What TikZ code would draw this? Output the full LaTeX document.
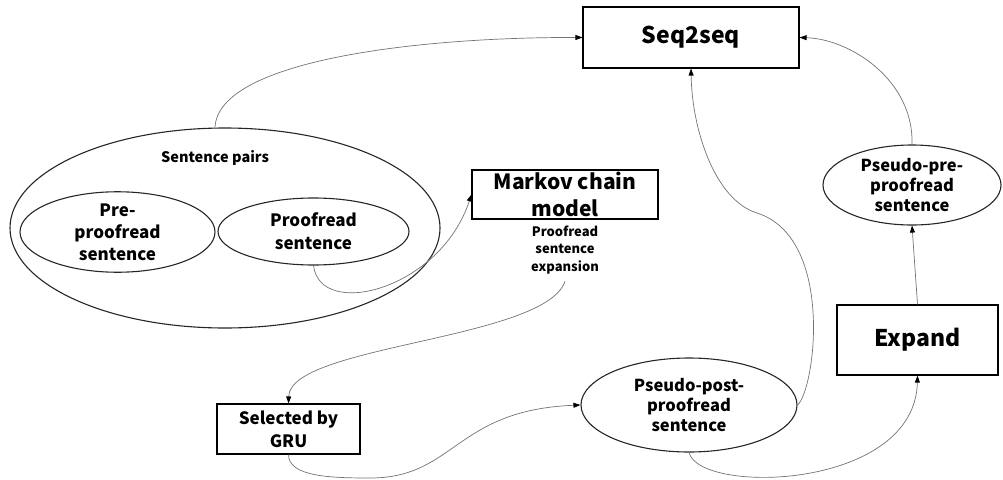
\documentclass[tikz,border=0pt]{standalone}
\usepackage{fontspec}
\setmainfont{Noto Sans CJK JP}
\usetikzlibrary{arrows.meta,shapes.geometric}
\tikzset{
  box/.style={draw=black, line width=1.1pt, rectangle, inner sep=0pt, align=center, font=\bfseries},
  oval/.style={draw=black!85, line width=1.1pt, ellipse, inner sep=0pt, align=center, font=\bfseries},
  conn/.style={draw=black!55, line width=0.7pt, -{Triangle[length=7pt,width=5pt,color=black,fill=black]}},
}
\begin{document}
\begin{tikzpicture}[x=1pt,y=-1pt]
\useasboundingbox (0,0) rectangle (1003,479);
% nodes
\node[box, minimum width=216pt, minimum height=61pt, font=\fontsize{23}{28}\selectfont\bfseries] (seq) at (691,37.5) {Seq2seq};
\node[oval, minimum width=430pt, minimum height=200pt] (pairs) at (225,228) {};
\node[font=\fontsize{14.5}{18}\selectfont\bfseries] (pairslbl) at (215,158) {Sentence pairs};
\node[oval, minimum width=195pt, minimum height=70pt, font=\fontsize{17}{22}\selectfont\bfseries] (pre) at (117.5,232) {Pre-\\proofread\\sentence};
\node[oval, minimum width=191pt, minimum height=67pt, font=\fontsize{17}{23}\selectfont\bfseries] (proof) at (313.5,231.5) {Proofread\\sentence};
\node[box, minimum width=186pt, minimum height=49pt, font=\fontsize{21}{27}\selectfont\bfseries] (markov) at (565,194.5) {Markov chain\\model};
\node[align=center, inner sep=1pt, font=\fontsize{13}{17.5}\selectfont\bfseries] (exptext) at (565,250) {Proofread\\sentence\\expansion};
\node[box, minimum width=143pt, minimum height=50pt, font=\fontsize{17}{23}\selectfont\bfseries] (gru) at (288.5,429) {Selected by\\GRU};
\node[oval, minimum width=216pt, minimum height=94pt, font=\fontsize{16.5}{20}\selectfont\bfseries] (post) at (689,405) {Pseudo-post-\\proofread\\sentence};
\node[oval, minimum width=178pt, minimum height=80pt, font=\fontsize{16.5}{20}\selectfont\bfseries] (ppre) at (912,185) {Pseudo-pre-\\proofread\\sentence};
\node[box, minimum width=161pt, minimum height=70pt, font=\fontsize{23}{28}\selectfont\bfseries] (expand) at (917.5,340) {Expand};
% waypoints
\coordinate (w4) at (370,478);
\coordinate (w6) at (757,213);
% connectors
\draw[conn] ([xshift=-10pt]pairs.north) .. controls (218,60) and (420,37) .. (seq.west);
\draw[conn] (proof.south) .. controls (320,320) and (440,290) .. (markov.west);
\draw[conn] ([yshift=-6pt]exptext.south) .. controls (545,340) and (290,345) .. (gru.north);
\draw[conn] (gru.south) .. controls +(0,22) and +(-40,0) .. (w4) .. controls (455,478) and (455,410) .. (post.west);
\draw[conn] (post.south) .. controls (700,495) and (915,490) .. (expand.south);
\draw[conn] (post.east) .. controls (815,390) and (835,238) .. (w6) .. controls (715,200) and (692,130) .. (seq.south);
\draw[conn] (ppre.north) .. controls (914,80) and (850,39) .. (seq.east);
\draw[conn] (expand.north) -- (ppre.south);
\end{tikzpicture}
\end{document}
